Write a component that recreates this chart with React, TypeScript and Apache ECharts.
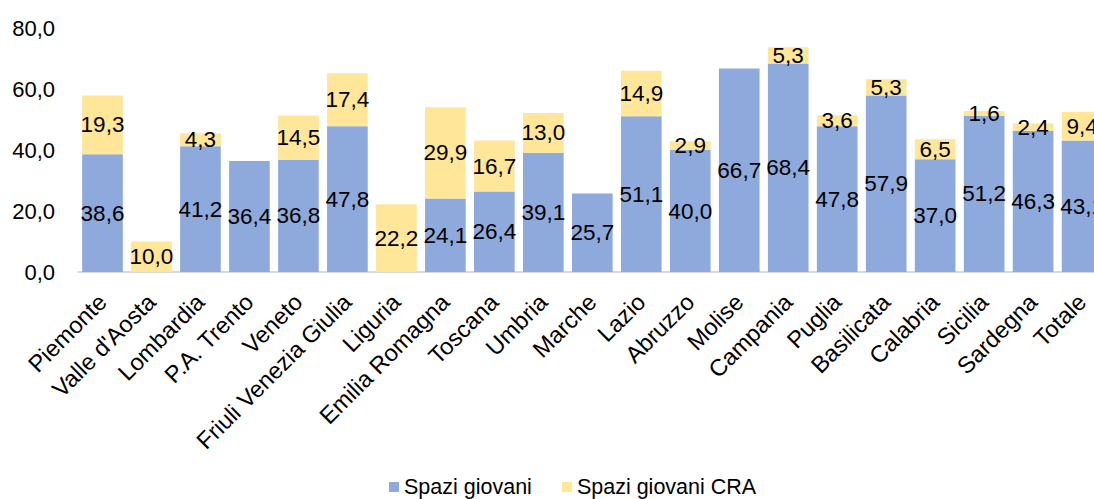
import React, { useEffect, useRef } from "react";
import * as echarts from "echarts";

const categories = [
  "Piemonte", "Valle d'Aosta", "Lombardia", "P.A. Trento", "Veneto", "Friuli Venezia Giulia",
  "Liguria", "Emilia Romagna", "Toscana", "Umbria", "Marche", "Lazio", "Abruzzo", "Molise",
  "Campania", "Puglia", "Basilicata", "Calabria", "Sicilia", "Sardegna", "Totale",
];
const spaziGiovani = [
  38.6, null, 41.2, 36.4, 36.8, 47.8, null, 24.1, 26.4, 39.1, 25.7, 51.1, 40.0, 66.7,
  68.4, 47.8, 57.9, 37.0, 51.2, 46.3, 43.1,
];
const spaziGiovaniCRA = [
  19.3, 10.0, 4.3, null, 14.5, 17.4, 22.2, 29.9, 16.7, 13.0, null, 14.9, 2.9, null,
  5.3, 3.6, 5.3, 6.5, 1.6, 2.4, 9.4,
];
const seriesNames = ["Spazi giovani", "Spazi giovani CRA"];

const FONT = "'Liberation Sans', Arial, sans-serif";
const fmt = (v: number) => v.toFixed(1).replace(".", ",");

export default function App() {
  const ref = useRef<HTMLDivElement>(null);
  useEffect(() => {
    if (!ref.current) return;
    const chart = echarts.init(ref.current, null, { renderer: "svg" });
    const label = {
      show: true,
      position: "inside",
      color: "#000",
      fontSize: 22.5,
      fontFamily: FONT,
      formatter: (p: any) => (p.value == null ? "" : fmt(p.value)),
    };
    chart.setOption({
      animation: false,
      textStyle: { fontFamily: FONT },
      grid: { left: 78, top: 28, width: 1028.6, height: 244 },
      legend: {
        left: 389,
        top: 476,
        padding: 0,
        itemWidth: 10,
        itemHeight: 10,
        itemGap: 30,
        icon: "rect",
        textStyle: { fontSize: 21.5, color: "#000", fontFamily: FONT },
        data: seriesNames,
      },
      xAxis: {
        type: "category",
        data: categories,
        axisLine: { lineStyle: { color: "#D9D9D9", width: 2 } },
        axisTick: { show: false },
        axisLabel: {
          rotate: 45,
          interval: 0,
          margin: 26,
          fontSize: 23.5,
          color: "#000",
          fontFamily: FONT,
        },
      },
      yAxis: {
        type: "value",
        min: 0,
        max: 80,
        interval: 20,
        splitLine: { show: false },
        axisLine: { show: false },
        axisLabel: {
          fontSize: 22,
          color: "#000",
          margin: 23,
          fontFamily: FONT,
          formatter: (v: number) => fmt(v),
        },
      },
      series: [
        {
          name: seriesNames[0],
          type: "bar",
          stack: "tot",
          barCategoryGap: "17%",
          data: spaziGiovani,
          itemStyle: { color: "#8EA9DB" },
          label,
        },
        {
          name: seriesNames[1],
          type: "bar",
          stack: "tot",
          barCategoryGap: "17%",
          data: spaziGiovaniCRA,
          itemStyle: { color: "#FFE699" },
          label,
        },
      ],
    });
    return () => chart.dispose();
  }, []);
  return (
    <div
      style={{ position: "absolute", left: 0, top: 0, width: 1094, height: 499, overflow: "hidden" }}
    >
      <div ref={ref} style={{ width: 1130, height: 499 }} />
    </div>
  );
}
